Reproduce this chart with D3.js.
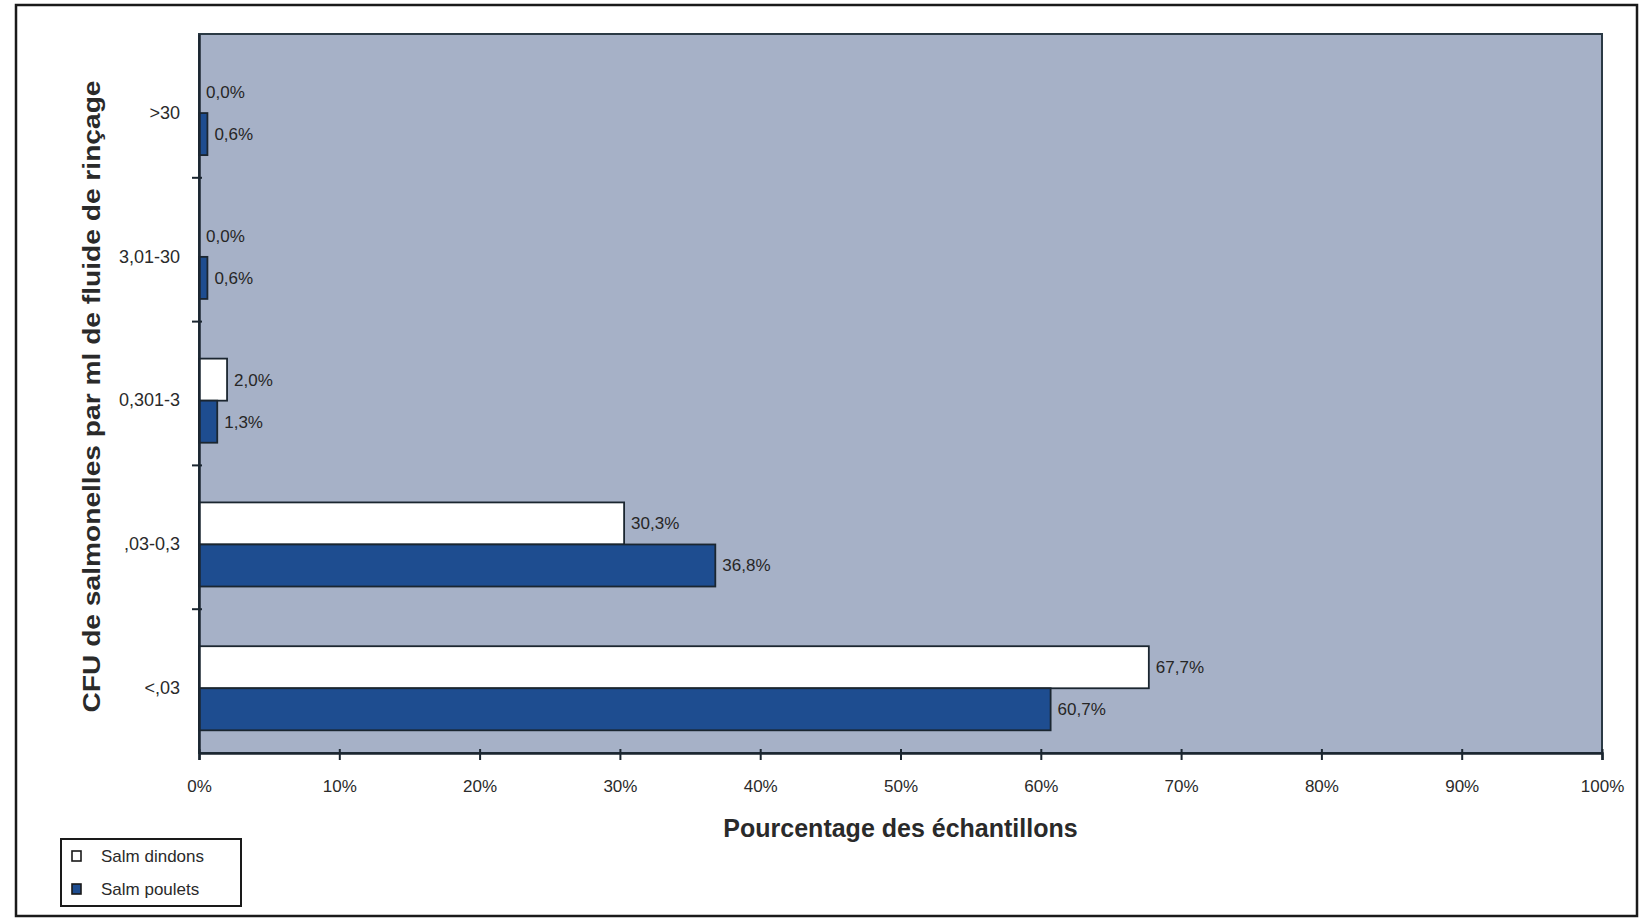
<!DOCTYPE html>
<html>
<head>
<meta charset="utf-8">
<script src="https://cdn.jsdelivr.net/npm/d3@7"></script>
<style>
  html, body { margin: 0; padding: 0; background: #ffffff; }
  svg { display: block; font-family: "Liberation Sans", Arial, sans-serif; }
</style>
</head>
<body>
<svg id="chart" width="1640" height="919"></svg>
<script>
// Salmonella counts per ml of rinse fluid, share of samples (%)
const categories = [">30", "3,01-30", "0,301-3", ",03-0,3", "<,03"];
const seriesNames = ["Salm dindons", "Salm poulets"];
const dindons = [0.0, 0.0, 2.0, 30.3, 67.7];
const poulets = [0.6, 0.6, 1.3, 36.8, 60.7];
const xTicks = [0, 10, 20, 30, 40, 50, 60, 70, 80, 90, 100];
const seriesFill = ["#ffffff", "#1e4d90"];

const svg = d3.select("#chart");

// outer frame
svg.append("rect")
  .attr("x", 16).attr("y", 5).attr("width", 1621).attr("height", 911)
  .attr("fill", "none").attr("stroke", "#1a1a1a").attr("stroke-width", 2.5);

const plot = { left: 199, top: 34, right: 1602, bottom: 753 };

const x = d3.scaleLinear().domain([0, 100]).range([plot.left, plot.right]);
const y = d3.scaleBand().domain(categories).range([plot.top, plot.bottom]);
const ySub = d3.scaleBand().domain(seriesNames)
  .range([0, y.bandwidth()]).paddingInner(0).paddingOuter(0.71).align(0.62);
const groupShift = ySub(seriesNames[1]) - y.bandwidth() / 2;

// plot background
svg.append("rect")
  .attr("x", plot.left).attr("y", plot.top)
  .attr("width", plot.right - plot.left).attr("height", plot.bottom - plot.top)
  .attr("fill", "#a6b1c7").attr("stroke", "#2b3a45").attr("stroke-width", 2);

const rows = categories.map((c, i) => ({
  cat: c,
  vals: [
    { s: seriesNames[0], v: dindons[i], fill: seriesFill[0] },
    { s: seriesNames[1], v: poulets[i], fill: seriesFill[1] }
  ]
}));

const fmt = v => d3.format(".1f")(v).replace(".", ",") + "%";

const groups = svg.append("g").selectAll("g").data(rows).join("g")
  .attr("transform", d => `translate(0,${y(d.cat)})`);

groups.selectAll("rect").data(d => d.vals.filter(e => e.v > 0)).join("rect")
  .attr("x", x(0))
  .attr("y", d => ySub(d.s))
  .attr("width", d => x(d.v) - x(0))
  .attr("height", ySub.bandwidth())
  .attr("fill", d => d.fill)
  .attr("stroke", "#1b2630").attr("stroke-width", 1.8);

groups.selectAll("text").data(d => d.vals).join("text")
  .attr("x", d => x(d.v) + 7)
  .attr("y", d => ySub(d.s) + ySub.bandwidth() / 2)
  .attr("dy", "0.35em")
  .attr("font-size", 17)
  .attr("fill", "#262626")
  .text(d => fmt(d.v));

// x axis
const xAxis = d3.axisBottom(x)
  .tickValues(xTicks)
  .tickFormat(d => d + "%")
  .tickSize(7).tickPadding(20);
const gx = svg.append("g").attr("transform", `translate(0,${plot.bottom})`).call(xAxis);
gx.select(".domain").attr("stroke", "#1b2630").attr("stroke-width", 2.5);
gx.selectAll(".tick line").attr("stroke", "#1b2630").attr("stroke-width", 2).attr("y1", -4);
gx.selectAll(".tick text").attr("font-size", 17).attr("fill", "#2a2a2a")
  .attr("font-family", "Liberation Sans, Arial, sans-serif");

// y axis
const yAxis = d3.axisLeft(y).tickSize(0).tickPadding(19);
const gy = svg.append("g").attr("transform", `translate(${plot.left},0)`).call(yAxis);
gy.select(".domain").attr("stroke", "#1b2630").attr("stroke-width", 2.5);
gy.selectAll(".tick text").attr("font-size", 18).attr("fill", "#2a2a2a")
  .attr("font-family", "Liberation Sans, Arial, sans-serif")
  .attr("transform", `translate(0,${groupShift})`);

// category separators on the y axis
svg.append("g").selectAll("line").data(categories.slice(0, -1)).join("line")
  .attr("x1", plot.left - 7).attr("x2", plot.left + 3)
  .attr("y1", d => y(d) + y.bandwidth())
  .attr("y2", d => y(d) + y.bandwidth())
  .attr("stroke", "#1b2630").attr("stroke-width", 2);

// axis titles
svg.append("text")
  .attr("x", (plot.left + plot.right) / 2).attr("y", 837)
  .attr("text-anchor", "middle")
  .attr("font-size", 25).attr("font-weight", "bold").attr("fill", "#2a2a2a")
  .text("Pourcentage des échantillons");

svg.append("text")
  .attr("transform", `translate(100,${(plot.top + plot.bottom) / 2 + 3}) rotate(-90)`)
  .attr("text-anchor", "middle")
  .attr("font-size", 24).attr("font-weight", "bold").attr("fill", "#2a2a2a")
  .attr("textLength", 632).attr("lengthAdjust", "spacingAndGlyphs")
  .text("CFU de salmonelles par ml de fluide de rinçage");

// legend
const legend = svg.append("g");
legend.append("rect")
  .attr("x", 61).attr("y", 839).attr("width", 180).attr("height", 67)
  .attr("fill", "#ffffff").attr("stroke", "#1a1a1a").attr("stroke-width", 2);
const li = legend.selectAll("g").data(seriesNames).join("g")
  .attr("transform", (d, i) => `translate(72,${856 + i * 33})`);
li.append("rect")
  .attr("x", 0).attr("y", -5).attr("width", 9).attr("height", 10)
  .attr("fill", (d, i) => seriesFill[i]).attr("stroke", "#1a1a1a").attr("stroke-width", 1.6);
li.append("text")
  .attr("x", 29).attr("y", 0).attr("dy", "0.35em")
  .attr("font-size", 17).attr("fill", "#2a2a2a")
  .text(d => d);
</script>
</body>
</html>
